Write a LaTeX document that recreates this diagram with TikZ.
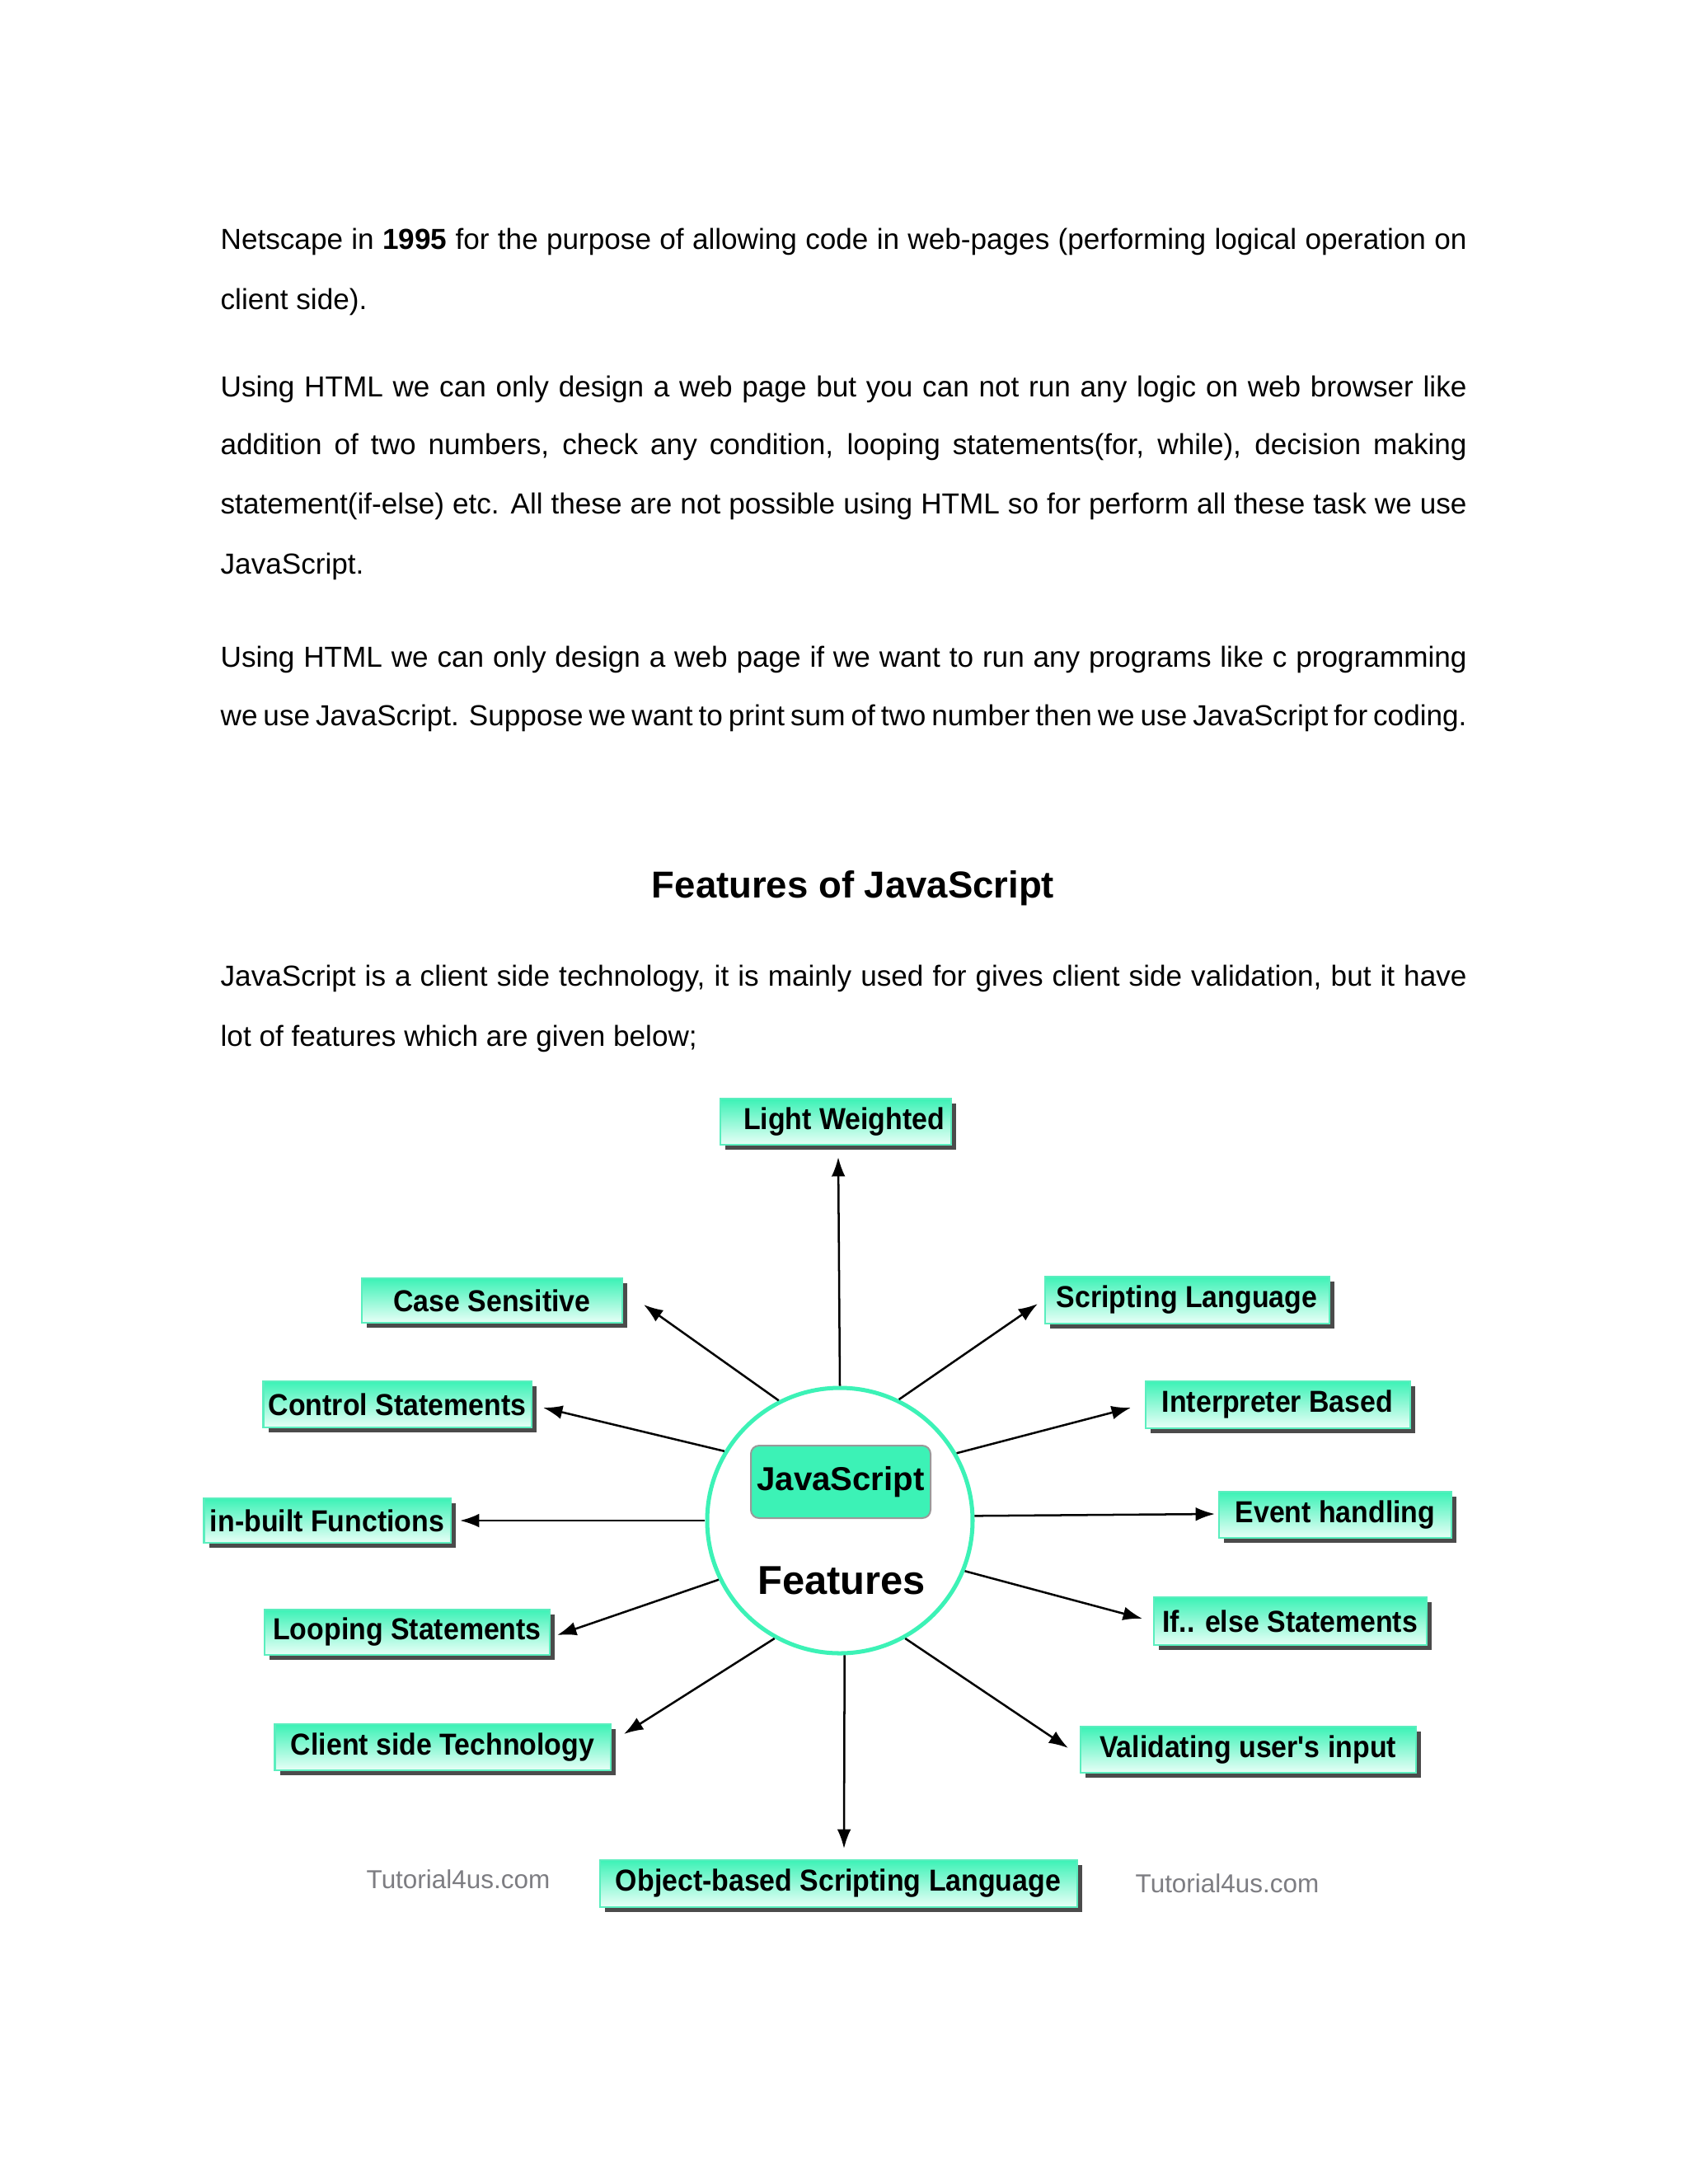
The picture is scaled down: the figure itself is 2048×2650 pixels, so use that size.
\documentclass[tikz,border=0pt]{standalone}
\usepackage{fontspec}
\setmainfont{Liberation Sans}
\newfontfamily\boxfont[FakeStretch=0.92]{Liberation Sans}
\usetikzlibrary{arrows.meta,shadows}
\definecolor{mint}{RGB}{60,242,182}
\definecolor{mintlight}{RGB}{232,255,247}
\definecolor{mintborder}{RGB}{90,238,190}
\definecolor{shadowgray}{RGB}{75,75,75}
\definecolor{wmgray}{RGB}{125,125,130}
\newlength\linew \setlength\linew{451.83pt}
\def\pxu{0.29883pt}
\begin{document}
\begin{tikzpicture}[x=0.29883pt,y=-0.29883pt,
 body/.style={anchor=base west,inner sep=0pt,font=\fontsize{10.5pt}{12pt}\selectfont},
 fbox/.style={draw=mintborder,line width=0.6pt,top color=mint,bottom color=mintlight,
   drop shadow={shadow xshift=1.9pt,shadow yshift=-1.9pt,fill=shadowgray,opacity=1},
   inner sep=0pt,font=\boxfont\bfseries\fontsize{11pt}{12pt}\selectfont,text=black},
 conn/.style={-{Latex[length=7pt,width=5pt]},line width=0.75pt,draw=black}]
\fill[white] (0,0) rectangle (2048,2650);
\useasboundingbox (0,0) rectangle (2048,2650);

% body text
\node[body] (l1) at (267,302) {\makebox[\linew][s]{Netscape in \textbf{1995} for the purpose of allowing code in web-pages (performing logical operation on}};
\node[body] (l2) at (267,375) {client side).};
\node[body] (l3) at (267,481) {\makebox[\linew][s]{Using HTML we can only design a web page but you can not run any logic on web browser like}};
\node[body] (l4) at (267,551) {\makebox[\linew][s]{addition of two numbers, check any condition, looping statements(for, while), decision making}};
\node[body] (l5) at (267,623) {\makebox[\linew][s]{statement(if-else) etc. All these are not possible using HTML so for perform all these task we use}};
\node[body] (l6) at (267,696) {JavaScript.};
\node[body] (l7) at (267,809) {\makebox[\linew][s]{Using HTML we can only design a web page if we want to run any programs like c programming}};
\node[body] (l8) at (267,880) {\makebox[\linew][s]{we use JavaScript. Suppose we want to print sum of two number then we use JavaScript for coding.}};
\node[anchor=base,inner sep=0pt,font=\bfseries\fontsize{13.6pt}{16pt}\selectfont] (title) at (1035,1089) {Features of JavaScript};
\node[body] (l9) at (267,1196) {\makebox[\linew][s]{JavaScript is a client side technology, it is mainly used for gives client side validation, but it have}};
\node[body] (l10) at (267,1269) {lot of features which are given below;};

% centre
\node[circle,draw=mint,line width=1.5pt,minimum size=322*\pxu,inner sep=0pt] (c) at (1019,1845) {};
\node[draw=gray!80,line width=0.6pt,fill=mint,rounded corners=3pt,minimum width=218*\pxu,minimum height=88*\pxu,inner sep=0pt,font=\bfseries\fontsize{12pt}{13pt}\selectfont] (js) at (1020,1798) {JavaScript};
\node[inner sep=0pt,font=\bfseries\fontsize{14.6pt}{16pt}\selectfont] (feat) at (1021,1918) {Features};

% feature boxes
\node[fbox,minimum width=280*\pxu,minimum height=56*\pxu] (lw) at (1014,1361) {\hspace*{6pt}Light Weighted};
\node[fbox,minimum width=316*\pxu,minimum height=54*\pxu] (cs) at (597,1578) {Case Sensitive};
\node[fbox,minimum width=345*\pxu,minimum height=57*\pxu] (sl) at (1440,1577) {Scripting Language};
\node[fbox,minimum width=325*\pxu,minimum height=56*\pxu] (ctl) at (482,1704) {Control Statements};
\node[fbox,minimum width=321*\pxu,minimum height=57*\pxu] (ib) at (1550,1704) {Interpreter Based};
\node[fbox,minimum width=299*\pxu,minimum height=54*\pxu] (inb) at (397,1845) {in-built Functions};
\node[fbox,minimum width=282*\pxu,minimum height=56*\pxu] (eh) at (1620,1838) {Event handling};
\node[fbox,minimum width=346*\pxu,minimum height=55*\pxu] (ls) at (494,1980) {Looping Statements};
\node[fbox,minimum width=331*\pxu,minimum height=58*\pxu] (ie) at (1565,1967) {If.. else Statements};
\node[fbox,minimum width=407*\pxu,minimum height=56*\pxu] (cst) at (537,2120) {Client side Technology};
\node[fbox,minimum width=407*\pxu,minimum height=56*\pxu] (vu) at (1514,2123) {Validating user's input};
\node[fbox,minimum width=579*\pxu,minimum height=57*\pxu] (obs) at (1017,2285) {Object-based Scripting Language};

% watermarks
\node[inner sep=0pt,text=wmgray,font=\fontsize{9.4pt}{11pt}\selectfont] (wm1) at (556,2280) {Tutorial4us.com};
\node[inner sep=0pt,text=wmgray,font=\fontsize{9.4pt}{11pt}\selectfont] (wm2) at (1489,2285) {Tutorial4us.com};

% arrow tips
\coordinate (tlw) at (1017,1404);
\coordinate (tcs) at (781,1583);
\coordinate (tsl) at (1259,1582);
\coordinate (tctl) at (659,1708);
\coordinate (tib) at (1372,1708);
\coordinate (tinb) at (558,1845);
\coordinate (teh) at (1474,1837);
\coordinate (tls) at (676,1984);
\coordinate (tie) at (1386,1964);
\coordinate (tcst) at (757,2104);
\coordinate (tvu) at (1296,2121);
\coordinate (tobs) at (1024,2243);

\draw[conn] (c.90.7) -- (tlw);
\draw[conn] (c.117.7) -- (tcs);
\draw[conn] (c.64.3) -- (tsl);
\draw[conn] (c.149.7) -- (tctl);
\draw[conn] (c.30.7) -- (tib);
\draw[conn] (c.180) -- (tinb);
\draw[conn] (c.2.8) -- (teh);
\draw[conn] (c.206.4) -- (tls);
\draw[conn] (c.-22.8) -- (tie);
\draw[conn] (c.241) -- (tcst);
\draw[conn] (c.-61.6) -- (tvu);
\draw[conn] (c.-88.3) -- (tobs);
\end{tikzpicture}
\end{document}
